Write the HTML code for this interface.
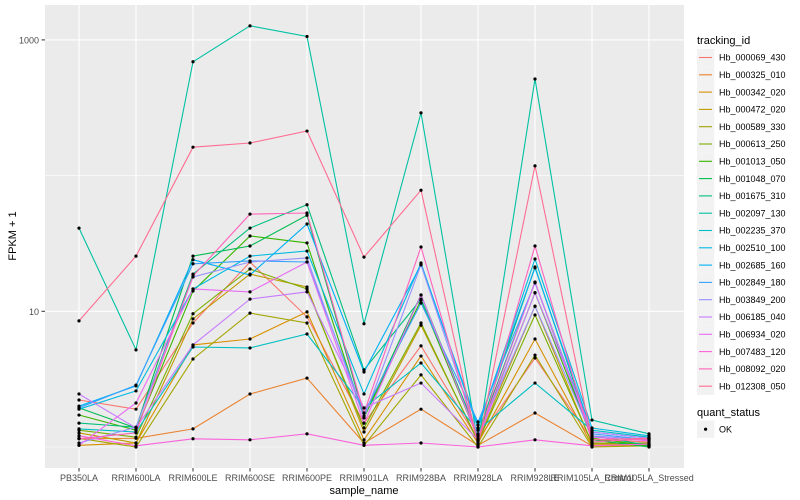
<!DOCTYPE html>
<html><head><meta charset="utf-8"><style>
body{margin:0;background:#fff;font-family:"Liberation Sans",sans-serif}
svg{display:block}
</style></head><body>
<svg id="chart" width="800" height="500" xmlns="http://www.w3.org/2000/svg">
<rect x="0" y="0" width="800" height="500" fill="#fff"/>
<rect x="45" y="5" width="639" height="463" fill="#EBEBEB"/>
<g id="grid"></g><g id="lines"></g><g id="points"></g><g id="axes"></g><g id="legend"></g>
</svg>
<script>
const categories=["PB350LA","RRIM600LA","RRIM600LE","RRIM600SE","RRIM600PE","RRIM901LA","RRIM928BA","RRIM928LA","RRIM928LE","RRIM105LA_Control","RRIM105LA_Stressed"];
const seriesNames=["Hb_000069_430","Hb_000325_010","Hb_000342_020","Hb_000472_020","Hb_000589_330","Hb_000613_250","Hb_001013_050","Hb_001048_070","Hb_001675_310","Hb_002097_130","Hb_002235_370","Hb_002510_100","Hb_002685_160","Hb_002849_180","Hb_003849_200","Hb_006185_040","Hb_006934_020","Hb_007483_120","Hb_008092_020","Hb_012308_050"];
const seriesColors=["#F8766D","#EA8331","#D89000","#C09B00","#A3A500","#7CAE00","#39B600","#00BB4E","#00BF7D","#00C1A3","#00BFC4","#00BAE0","#00B0F6","#35A2FF","#9590FF","#C77CFF","#E76BF3","#FA62DB","#FF62BC","#FF6C91"];
const s0=[2.22,1.9,8.2,23.1,9.1,1.5,5.56,1.13,4.53,1.13,1.09];
const s1=[1.15,1.16,1.36,2.46,3.22,1.07,1.9,1.03,1.78,1.02,1.02];
const s2=[1.03,1.07,5.65,6.25,9.9,1.13,4.68,1.07,6.25,1.03,1.03];
const s3=[1.27,1.07,8.8,18.8,15.1,1.29,7.9,1.11,10.9,1.05,1.05];
const s4=[1.16,1.0,4.45,9.7,8.2,1.03,3.4,1.0,4.76,1.0,1.02];
const s5=[1.33,1.18,9.6,20.5,14.6,1.38,8.2,1.09,9.4,1.07,1.07];
const s6=[1.72,1.33,14.1,35.9,31.9,1.64,12.1,1.16,13.7,1.16,1.02];
const s7=[1.94,1.38,25.5,30.3,51,1.69,13.2,1.21,16.4,1.13,1.0];
const s8=[1.5,1.4,18.8,41,61,3.7,12.3,1.25,21.2,1.21,1.03];
const s9=[41,5.2,690,1270,1060,8.1,290,1.07,515,1.58,1.25];
const s10=[1.36,1.29,5.46,5.37,6.8,1.94,4.16,1.33,2.96,1.33,1.18];
const s11=[1.9,2.59,14.6,25.5,27.8,2.46,22.7,1.38,24.3,1.38,1.21];
const s12=[2.0,2.82,24,18.5,44,3.57,22,1.45,20.9,1.29,1.16];
const s13=[1.94,2.86,22.4,23.5,23.1,1.78,11.5,1.53,16.2,1.25,1.13];
const s14=[1.07,1.4,17.9,23.1,24.7,1.64,22,1.21,10.9,1.21,1.13];
const s15=[2.46,1.38,5.65,12.3,13.9,1.94,2.96,1.13,13.7,1.29,1.16];
const s16=[1.03,2.11,14.6,13.9,23.1,1.5,13.2,1.15,16.4,1.18,1.11];
const s17=[1.21,1.02,1.15,1.13,1.25,1.03,1.07,1.0,1.13,1.02,1.05];
const s18=[1.15,1.27,18.2,52,53,1.78,29.8,1.07,30.3,1.09,1.15];
const s19=[8.5,25.5,162,174,213,25.1,78,1.03,118,1.13,1.16];
const seriesValues=[s0,s1,s2,s3,s4,s5,s6,s7,s8,s9,s10,s11,s12,s13,s14,s15,s16,s17,s18,s19];
const yMajorTicks=[10,1000];
const yMinorTicks=[1,100];
const yTickLabels=["10","1000"];

const NS="http://www.w3.org/2000/svg";
function xScale(i){return 79+i*57;}
function yScale(v){return 447-Math.log10(v)*135.7;}
function mk(tag,attrs,parent){const e=document.createElementNS(NS,tag);for(const k in attrs)e.setAttribute(k,attrs[k]);parent.appendChild(e);return e;}
const grid=document.getElementById('grid'),lines=document.getElementById('lines'),pts=document.getElementById('points'),axes=document.getElementById('axes'),legend=document.getElementById('legend');

yMinorTicks.forEach(v=>{const l=mk('line',{x1:45,x2:684,y1:yScale(v),y2:yScale(v),stroke:'#fff','stroke-width':0.6},grid);

});
yMajorTicks.forEach((v,i)=>{const l=mk('line',{x1:45,x2:684,y1:yScale(v),y2:yScale(v),stroke:'#fff','stroke-width':1.1},grid);


const t=mk('line',{x1:41.5,x2:45,y1:yScale(v),y2:yScale(v),stroke:'#333','stroke-width':1},axes);


const tx=mk('text',{x:39,y:yScale(v)+3.5,'text-anchor':'end','font-size':9,fill:'#4D4D4D'},axes);
tx.textContent=yTickLabels[i];

});
categories.forEach((c,i)=>{const x=xScale(i);
const l=mk('line',{x1:x,x2:x,y1:5,y2:468,stroke:'#fff','stroke-width':1.1},grid);


const t=mk('line',{x1:x,x2:x,y1:468,y2:471.5,stroke:'#333','stroke-width':1},axes);


const tx=mk('text',{x:x,y:481,'text-anchor':'middle','font-size':9,fill:'#4D4D4D'},axes);
tx.textContent=c;

});
const xt=mk('text',{x:364,y:494,'text-anchor':'middle','font-size':11,fill:'#000'},axes);
xt.textContent='sample_name';


const yt=mk('text',{x:0,y:0,transform:'translate(16,236) rotate(-90)','text-anchor':'middle','font-size':11,fill:'#000'},axes);
yt.textContent='FPKM + 1';



seriesValues.forEach((vals,si)=>{
const d=vals.map((v,i)=>(i?'L':'M')+xScale(i).toFixed(1)+','+yScale(v).toFixed(1)).join(' ');
const p=mk('path',{d:d,fill:'none',stroke:seriesColors[si],'stroke-width':1.1},lines);


vals.forEach((v,i)=>{const c=mk('circle',{cx:xScale(i),cy:yScale(v),r:1.6,fill:'#000'},pts);

});
});

const lt=mk('text',{x:697,y:44,'font-size':11,fill:'#000'},legend);
lt.textContent='tracking_id';


seriesNames.forEach((n,i)=>{const cy=57.5+i*17.3;
const g=mk('g',{},legend);


mk('rect',{x:697,y:cy-8.6,width:17.3,height:17.3,fill:'#F2F2F2'},g);
mk('line',{x1:699,x2:712,y1:cy,y2:cy,stroke:seriesColors[i],'stroke-width':1.1},g);
const t=mk('text',{x:719,y:cy+3.2,'font-size':9,fill:'#000'},g);t.textContent=n;});
const qt=mk('text',{x:697,y:416,'font-size':11,fill:'#000'},legend);
qt.textContent='quant_status';


const qg=mk('g',{},legend);


mk('rect',{x:697,y:420.5,width:17.3,height:17.3,fill:'#F2F2F2'},qg);
mk('circle',{cx:705.6,cy:429.2,r:1.6,fill:'#000'},qg);
const qtx=mk('text',{x:719,y:432.4,'font-size':9,fill:'#000'},qg);qtx.textContent='OK';
</script>
</body></html>
